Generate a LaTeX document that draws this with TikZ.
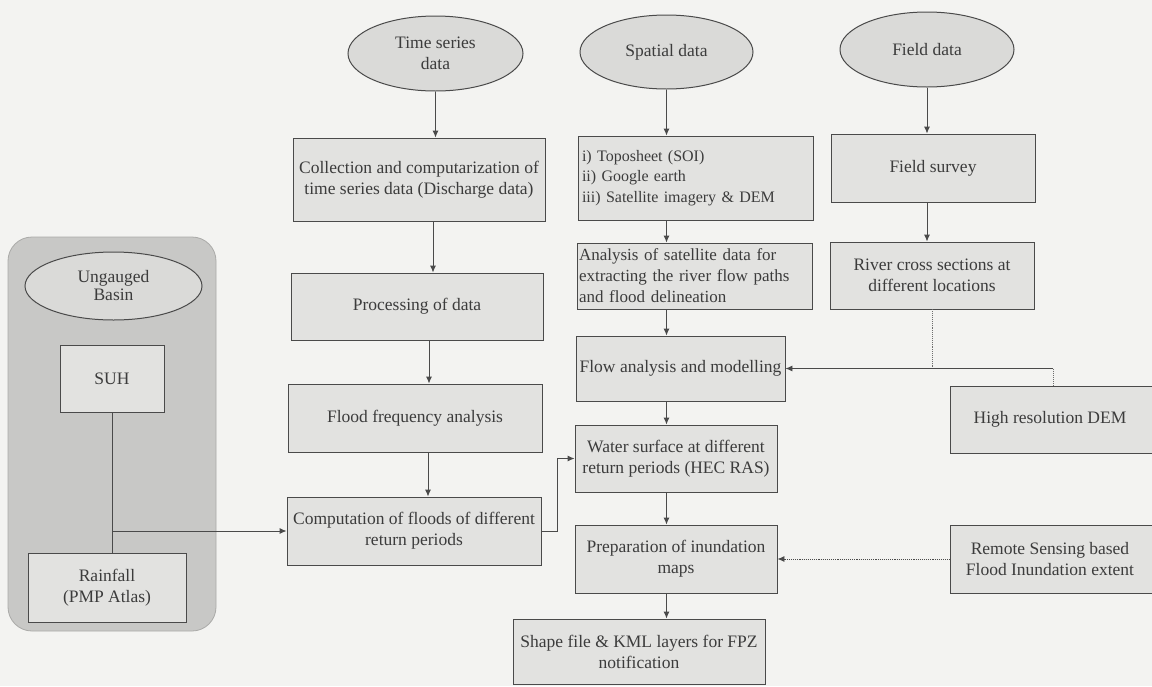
\documentclass[tikz,border=0pt]{standalone}
\usepackage{fontspec}
\setmainfont{Liberation Serif}
\usetikzlibrary{arrows.meta,shapes.geometric}
\definecolor{bgc}{HTML}{F3F3F1}
\definecolor{boxfill}{HTML}{E2E2E0}
\definecolor{ellfill}{HTML}{DADAD8}
\definecolor{panelfill}{HTML}{C8C8C6}
\definecolor{linec}{HTML}{4A4A4A}
\definecolor{txtc}{HTML}{3C3C3C}
\begin{document}
\begin{tikzpicture}[x=1pt,y=-1pt,
  every node/.style={font=\fontsize{17.5}{21}\selectfont, text=txtc},
  box/.style={draw=linec, line width=0.9pt, fill=boxfill, inner sep=3pt, align=center},
  oval/.style={ellipse, draw=linec, line width=1pt, fill=ellfill, inner sep=0pt, align=center},
  arr/.style={draw=linec, line width=0.9pt, -{Latex[length=7pt,width=6pt]}},
  con/.style={draw=linec, line width=0.9pt},
  dots/.style={draw=linec!80, line width=0.9pt, densely dotted}]
\useasboundingbox (0,0) rectangle (1152,686);
\fill[bgc] (0,0) rectangle (1152,686);
% left panel
\filldraw[fill=panelfill, draw=panelfill!85!black, line width=0.8pt, rounded corners=24pt] (8,237) rectangle (216,631);
\node[oval, minimum width=177pt, minimum height=68pt] (ub) at (113.5,286) {Ungauged\\[-3pt]Basin};
\node[box, minimum width=104pt, minimum height=67pt] (suh) at (112,378.5) {SUH};
\node[box, minimum width=158pt, minimum height=69pt] (rain) at (107,587.5) {Rainfall\\(PMP Atlas)};
% time series column
\node[oval, minimum width=175pt, minimum height=75pt] (ts) at (435.5,53.5) {Time series\\data};
\node[box, minimum width=252pt, minimum height=83pt] (coll) at (419,179.5) {Collection and computarization of\\time series data (Discharge data)};
\node[box, minimum width=252pt, minimum height=67pt] (proc) at (417,306.5) {Processing of data};
\node[box, minimum width=254pt, minimum height=68pt] (ffa) at (415,418) {Flood frequency analysis};
\node[box, minimum width=254pt, minimum height=68pt] (comp) at (414,531) {Computation of floods of different\\return periods};
% spatial column
\node[oval, minimum width=173pt, minimum height=74pt] (sp) at (666.5,52) {Spatial data};
\node[box, minimum height=84pt, text width=227pt, inner xsep=4pt, align=left, font=\fontsize{16}{20.5}\selectfont] (topo) at (695.5,178) {i) Toposheet (SOI)\\ii) Google earth\\iii) Satellite imagery \& DEM};
\node[box, minimum height=66pt, text width=231pt, inner xsep=2pt, align=left, inner ysep=1pt, font=\fontsize{17}{21}\selectfont] (anal) at (694.5,276) {Analysis of satellite data for\\extracting the river flow paths\\and flood delineation};
\node[box, minimum width=209pt, minimum height=65pt] (flow) at (680.5,368.5) {Flow analysis and modelling};
\node[box, minimum width=202pt, minimum height=67pt] (wsurf) at (676,458.5) {Water surface at different\\return periods (HEC RAS)};
\node[box, minimum width=202pt, minimum height=68pt] (prep) at (676,559) {Preparation of inundation\\maps};
\node[box, minimum width=252pt, minimum height=65pt] (shape) at (639,651.5) {Shape file \& KML layers for FPZ\\notification};
% field column
\node[oval, minimum width=174pt, minimum height=75pt] (fd) at (927,49.5) {Field data};
\node[box, minimum width=204pt, minimum height=68pt] (survey) at (933,168) {Field survey};
\node[box, minimum width=204pt, minimum height=67pt] (river) at (932,275.5) {River cross sections at\\different locations};
\node[box, minimum width=206pt, minimum height=67pt] (dem) at (1053,419.5) {\hspace*{-6pt}High resolution DEM};
\node[box, minimum width=206pt, minimum height=68pt] (rs) at (1053,559) {\hspace*{-6pt}Remote Sensing based\\\hspace*{-6pt}Flood Inundation extent};
% connectors: time series column
\draw[arr] (ts.south) -- (ts.south |- coll.north);
\draw[arr] ([xshift=14pt]coll.south) -- ([xshift=14pt]coll.south |- proc.north);
\draw[arr] ([xshift=12pt]proc.south) -- ([xshift=12pt]proc.south |- ffa.north);
\draw[arr] ([xshift=13pt]ffa.south) -- ([xshift=13pt]ffa.south |- comp.north);
\draw[arr] (comp.east) -- ++(16,0) |- (wsurf.west);
% spatial column
\draw[arr] (sp.south) -- (sp.south |- topo.north);
\draw[arr] (sp.south |- topo.south) -- (sp.south |- anal.north);
\draw[arr] (sp.south |- anal.south) -- (sp.south |- flow.north);
\draw[arr] (sp.south |- flow.south) -- (sp.south |- wsurf.north);
\draw[arr] (sp.south |- wsurf.south) -- (sp.south |- prep.north);
\draw[arr] (sp.south |- prep.south) -- (sp.south |- shape.north);
% field column
\draw[arr] (fd.south) -- (fd.south |- survey.north);
\draw[arr] (fd.south |- survey.south) -- (fd.south |- river.north);
\coordinate (rj) at (river.south |- flow.east);
\coordinate (dj) at (dem.north |- flow.east);
\draw[dots] (river.south) -- (rj);
\draw[dots] (dem.north) -- (dj);
\draw[arr] (dj) -- (flow.east);
\draw[arr, densely dotted] (rs.west) -- (prep.east);
% ungauged basin
\coordinate (uj) at (suh.south |- comp.west);
\draw[con] (suh.south) -- (suh.south |- rain.north);
\draw[arr] (uj) -- (comp.west);
\end{tikzpicture}
\end{document}
